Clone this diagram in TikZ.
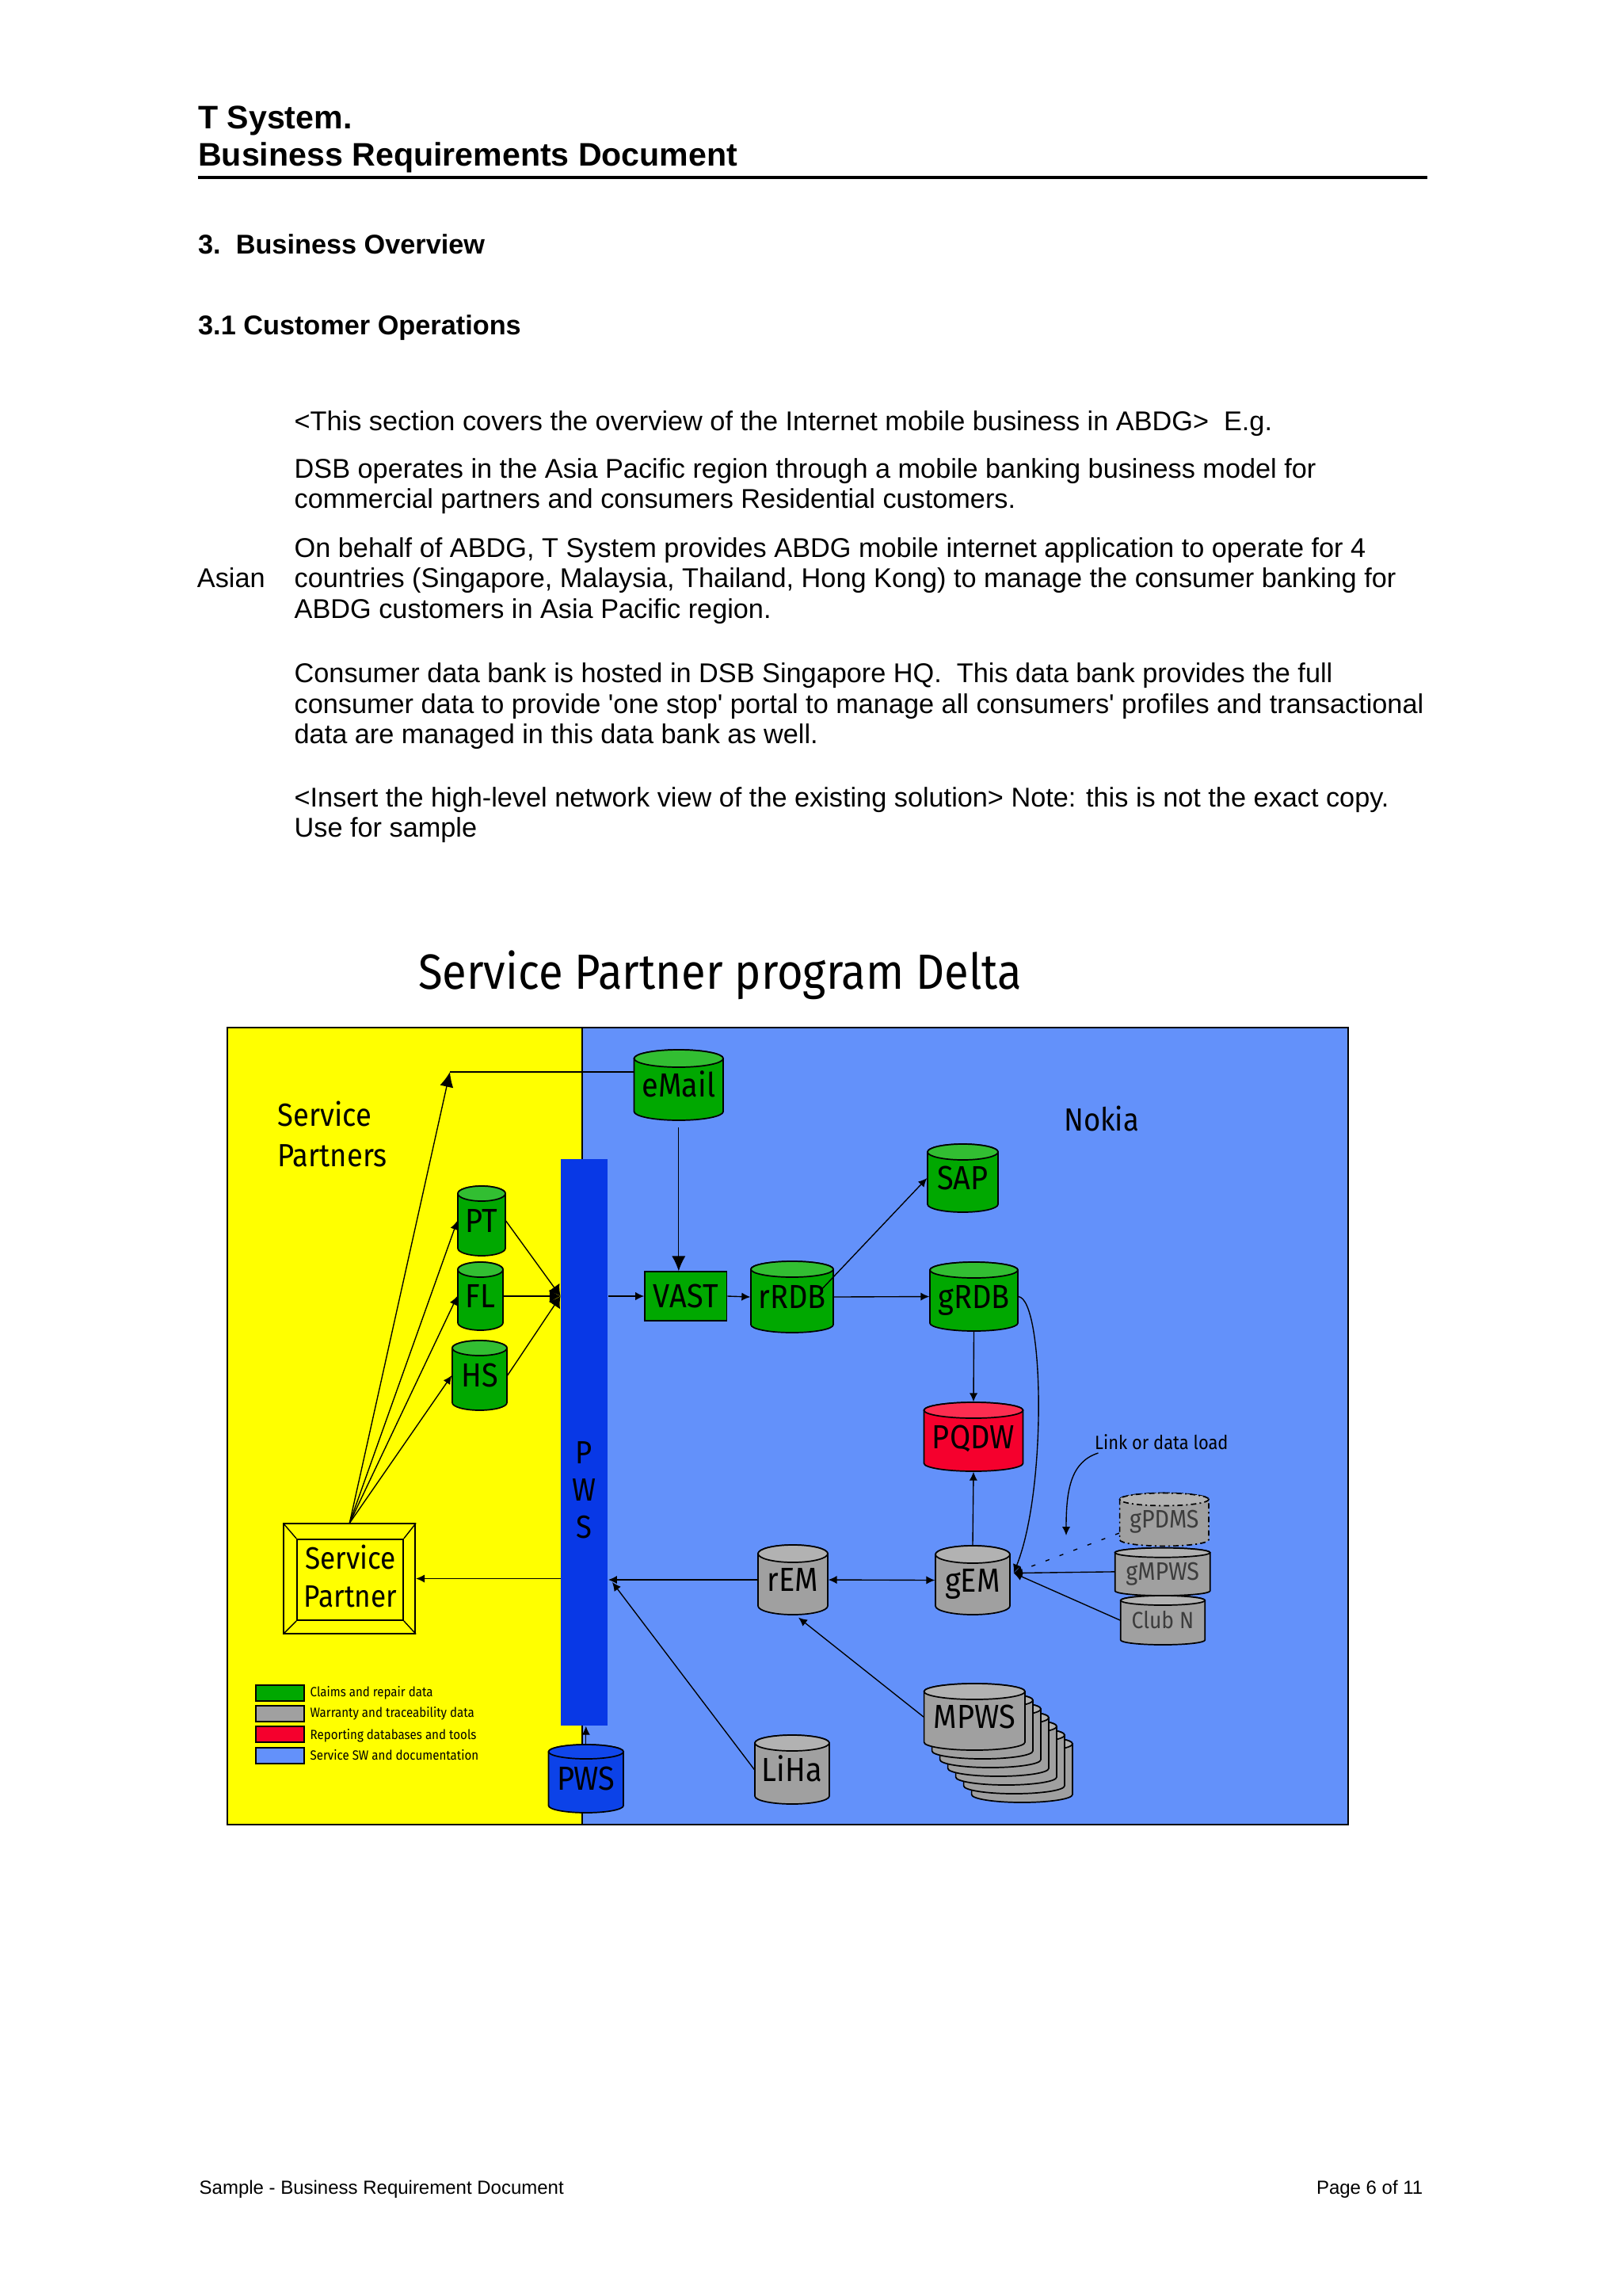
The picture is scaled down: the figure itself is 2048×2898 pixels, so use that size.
\documentclass[tikz,border=0pt]{standalone}
\usepackage{fontspec}
\setmainfont{Liberation Sans}
\newfontfamily\arialf{Liberation Sans}
\newfontfamily\dgm{Fira Sans}[FakeStretch=0.9]
\usetikzlibrary{arrows.meta,calc}

\definecolor{ylw}{RGB}{255,255,0}
\definecolor{nblue}{RGB}{99,145,250}
\definecolor{barblue}{RGB}{8,56,230}
\definecolor{grnbody}{RGB}{0,168,0}
\definecolor{grntop}{RGB}{50,190,50}
\definecolor{grybody}{RGB}{160,160,160}
\definecolor{grytop}{RGB}{178,178,178}
\definecolor{redbody}{RGB}{245,0,45}
\definecolor{redtop}{RGB}{252,45,80}
\definecolor{blubody}{RGB}{12,66,232}
\definecolor{blutop}{RGB}{16,70,236}
\definecolor{graytxt}{RGB}{60,60,60}

\newcommand{\cylry}{10}
% [#1 extra style] #2 colour prefix, #3 name, #4 cx, #5 top, #6 bottom, #7 width, #8 label
\newcommand{\dbcyl}[8][]{%
  \pgfmathsetmacro\cxl{#4-(#7)/2}%
  \pgfmathsetmacro\cxr{#4+(#7)/2}%
  \pgfmathsetmacro\crx{(#7)/2}%
  \pgfmathsetmacro\cyt{#5+\cylry}%
  \pgfmathsetmacro\cyb{#6-\cylry}%
  \pgfmathsetmacro\cmx{#4}%
  \pgfmathsetmacro\cmy{(#5+#6)/2}%
  \pgfmathsetmacro\cht{(#6-#5)*0.10254}%
  \pgfmathsetmacro\cwd{(#7)*0.10254}%
  \filldraw[cylline,fill=#2body,#1] (\cxl,\cyt) -- (\cxl,\cyb)
     arc[start angle=180,end angle=0,x radius=\crx,y radius=\cylry] -- (\cxr,\cyt)
     arc[start angle=0,end angle=-180,x radius=\crx,y radius=\cylry] -- cycle;
  \filldraw[cylline,fill=#2top,#1] (\cmx,\cyt) ellipse[x radius=\crx,y radius=\cylry];
  \node[cyllbl,#1,draw=none,minimum width=\cwd mm,minimum height=\cht mm] (#3) at (\cmx,\cmy) {#8};
}

\begin{document}
\begin{tikzpicture}[x=0.10254mm, y=-0.10254mm,
  every node/.style={inner sep=0pt},
  bodytxt/.style={anchor=base west, font=\arialf\fontsize{10}{11.5}\selectfont},
  hdrtxt/.style={anchor=base west, font=\arialf\bfseries\fontsize{12}{14}\selectfont},
  sectxt/.style={anchor=base west, font=\arialf\bfseries\fontsize{10}{12}\selectfont},
  foottxt/.style={font=\arialf\fontsize{7}{8.5}\selectfont},
  cylline/.style={draw=black, line width=0.5pt},
  cyllbl/.style={font=\dgm\fontsize{12.3}{14}\selectfont, text height=8.5pt, text depth=0pt},
  smalllbl/.style={font=\dgm\fontsize{9.3}{11}\selectfont, text height=6.4pt, text=graytxt},
  dlbl/.style={font=\dgm\fontsize{11.8}{14}\selectfont},
  legtxt/.style={anchor=west, font=\dgm\fontsize{4.9}{6}\selectfont, text height=3.4pt, text depth=0pt},
  swatch/.style={draw=black, line width=0.5pt, minimum width=6.25mm, minimum height=2.05mm},
  conn/.style={draw=black, line width=0.4pt},
  arr/.style={conn, -{Latex[length=3.2pt,width=3pt]}},
  bigarr/.style={conn, -{Latex[length=5.5pt,width=5pt]}},
  juncarr/.style={conn, -{Latex[length=4pt,width=5pt]}},
  dblarr/.style={conn, {Latex[length=3.2pt,width=3pt]}-{Latex[length=3.2pt,width=3pt]}}
]
\path[use as bounding box, fill=white] (0,0) rectangle (2048,2898);

% ---------- page header ----------
\node[hdrtxt] (h1) at (249.5,162.7) {T System.};
\node[hdrtxt] (h2) at (249.5,209.3) {Business Requirements Document};
\draw[line width=0.9pt] (249.5,224) -- (1802,224);
\node[sectxt] (s1) at (249.5,320.7) {3.\ \ Business Overview};
\node[sectxt] (s2) at (249.5,422.7) {3.1 Customer Operations};

% ---------- body text ----------
\node[bodytxt] (b1) at (371,543.3) {<This section covers the overview of the Internet mobile business in ABDG>\ \ E.g.};
\node[bodytxt] (b2) at (371,603.3) {DSB operates in the Asia Pacific region through a mobile banking business model for};
\node[bodytxt] (b3) at (371,641.7) {commercial partners and consumers Residential customers.};
\node[bodytxt] (b4) at (371,703.3) {On behalf of ABDG, T System provides ABDG mobile internet application to operate for 4};
\node[bodytxt] (b5) at (371,741.7) {countries (Singapore, Malaysia, Thailand, Hong Kong) to manage the consumer banking for};
\node[bodytxt] (b5a) at (248.3,741.7) {Asian};
\node[bodytxt] (b6) at (371,780.1) {ABDG customers in Asia Pacific region.};
\node[bodytxt] (b7) at (371,861.7) {Consumer data bank is hosted in DSB Singapore HQ.\ \ This data bank provides the full};
\node[bodytxt] (b8) at (371,900) {consumer data to provide 'one stop' portal to manage all consumers' profiles and transactional};
\node[bodytxt] (b9) at (371,938.4) {data are managed in this data bank as well.};
\node[bodytxt] (b10) at (371,1018.3) {<Insert the high-level network view of the existing solution> Note: this is not the exact copy.};
\node[bodytxt] (b11) at (371,1056.7) {Use for sample};

% ---------- diagram title ----------
\node[anchor=base, font=\dgm\fontsize{18.2}{21}\selectfont] (title) at (909,1248.3) {Service Partner program Delta};

% ---------- panels ----------
\fill[ylw] (287,1297) rectangle (735,2303);
\fill[nblue] (735,1297) rectangle (1702,2303);
\draw[line width=0.6pt] (287,1297) rectangle (1702,2303);
\draw[line width=0.6pt] (735,1297) -- (735,2303);

\node[dlbl, anchor=base west] (spl1) at (350,1421.7) {Service};
\node[dlbl, anchor=base west] (spl2) at (350,1472.7) {Partners};
\node[dlbl, anchor=base] (nokia) at (1390.6,1427) {Nokia};

% ---------- PWS bar ----------
\node[fill=barblue, minimum width=6.05mm, minimum height=73.32mm] (bar) at (737.8,1820.5) {};
\node[dlbl, align=center, font=\dgm\fontsize{11.8}{13.7}\selectfont] (barl) at (737.5,1880.8) {P\\W\\S};

% ---------- cylinders ----------
\renewcommand{\cylry}{11}
\dbcyl{grn}{eMail}{856.8}{1325}{1414}{112.5}{eMail}
\renewcommand{\cylry}{9.5}
\dbcyl{grn}{PT}{608}{1497}{1585}{60}{PT}
\dbcyl{grn}{FL}{606.5}{1593}{1679}{57}{FL}
\dbcyl{grn}{HS}{605.5}{1692}{1780}{69}{HS}
\renewcommand{\cylry}{10}
\dbcyl{grn}{rRDB}{1000}{1592}{1682}{104}{rRDB}
\dbcyl{grn}{SAP}{1215.5}{1444}{1530}{89}{SAP}
\dbcyl{grn}{gRDB}{1229.5}{1593}{1680}{111}{gRDB}
\dbcyl{red}{PQDW}{1229}{1770}{1857}{125}{PQDW}
\renewcommand{\cylry}{11}
\dbcyl{gry}{gEM}{1228}{1951}{2038}{94}{gEM}
\dbcyl{gry}{rEM}{1001}{1950}{2038}{88}{rEM}
\renewcommand{\cylry}{10}
\dbcyl{gry}{LiHa}{1000}{2190}{2277}{94}{LiHa}
\foreach \k in {6,5,4,3,2,1}{%
  \dbcyl{gry}{MPWSb\k}{1230.3+10*\k}{2125+11*\k}{2209+11*\k}{127.4}{}
}
\dbcyl{gry}{MPWS}{1230.3}{2125}{2209}{127.4}{MPWS}
\renewcommand{\cylry}{9}
\dbcyl{blu}{PWS}{739.8}{2202}{2288}{94.5}{PWS}
\renewcommand{\cylry}{8}
\dbcyl[smalllbl, dash pattern=on 2pt off 1.2pt on 0.6pt off 1.2pt]{gry}{gPDMS}{1469.8}{1884.5}{1951.4}{112.4}{gPDMS}
\renewcommand{\cylry}{6}
\dbcyl[smalllbl]{gry}{gMPWS}{1467.7}{1953.7}{2014}{120}{gMPWS}
\dbcyl[smalllbl, font=\dgm\fontsize{8.6}{10}\selectfont, text height=5.9pt]{gry}{ClubN}{1468}{2014}{2076}{106.5}{Club N}

% ---------- VAST ----------
\node[cyllbl, draw=black, line width=0.5pt, fill=grnbody, minimum width=10.61mm, minimum height=6.33mm] (VAST) at (865.8,1636) {VAST};

% ---------- Service Partner frame ----------
\node[draw=black, line width=0.5pt, fill=ylw, minimum width=17.02mm, minimum height=14.19mm] (sp) at (441.3,1992.5) {};
\node[draw=black, line width=0.5pt, minimum width=13.74mm, minimum height=10.49mm] (spi) at (442,1993.9) {};
\draw[conn] (sp.north west) -- (spi.north west) (sp.north east) -- (spi.north east)
            (sp.south west) -- (spi.south west) (sp.south east) -- (spi.south east);
\node[anchor=base, font=\dgm\fontsize{11.4}{13}\selectfont] (spt1) at (442.5,1980.8) {Service};
\node[anchor=base, font=\dgm\fontsize{11.4}{13}\selectfont] (spt2) at (442.5,2028.5) {Partner};

% ---------- legend ----------
\node[swatch, fill=grnbody] (lg1) at (353.8,2136.7) {};
\node[swatch, fill=grybody] (lg2) at (353.8,2163) {};
\node[swatch, fill=redbody] (lg3) at (353.8,2189.3) {};
\node[swatch, fill=nblue] (lg4) at (353.8,2216) {};
\node[legtxt] (lt1) at (391,2136) {Claims and repair data};
\node[legtxt] (lt2) at (391,2161.7) {Warranty and traceability data};
\node[legtxt] (lt3) at (391,2189.3) {Reporting databases and tools};
\node[legtxt] (lt4) at (391,2216) {Service SW and documentation};

% ---------- connectors ----------
\coordinate (emc) at (568,1353);
\coordinate (jn) at (bar.west |- FL.east);
\coordinate (gemin) at ($(gEM.east)+(4,-9)$);

\draw[conn] (eMail.west |- emc) -- (emc);
\draw[bigarr] (sp.north) -- (emc);
\draw[arr] (sp.north) -- (PT.west);
\draw[arr] (sp.north) -- (FL.west);
\draw[arr] (sp.north) -- (HS.west);

\draw[juncarr] (PT.east) -- (jn);
\draw[juncarr] (FL.east) -- (jn);
\draw[juncarr] (HS.east) -- (jn);

\draw[bigarr, shorten <=0.9mm] (eMail.south) -- (eMail.south |- VAST.north);
\draw[arr] (bar.east |- VAST.west) -- (VAST.west);
\draw[arr] (VAST.east) -- (rRDB.west);
\draw[arr] ($(rRDB.east)+(-15,-10)$) -- (SAP.west);
\draw[arr] (rRDB.east) -- (gRDB.west);
\draw[arr] (gRDB.south) -- (PQDW.north);
\draw[arr] (gEM.north) -- (PQDW.south);
\draw[arr] (gRDB.east) .. controls (1318,1640) and (1322,1880) .. (gemin);
\draw[arr] (gMPWS.west) -- (gemin);
\draw[arr] (ClubN.west) -- (gemin);
\draw[arr, dash pattern=on 1.5pt off 4pt] ($(gPDMS.south west)+(0,-17)$) -- (gemin);

\draw[dblarr] (rEM.east) -- (gEM.west);
\draw[arr] (rEM.west) -- (rEM.west -| bar.east);
\draw[arr] (bar.west |- sp.east) -- (sp.east);
\draw[arr] (LiHa.west) -- ($(bar.east |- rEM.west)+(5,3)$);
\draw[arr] (MPWS.west) -- ($(rEM.south)+(7,3)$);
\draw[arr] (PWS.north) -- (PWS.north |- bar.south);

\node[anchor=base west, font=\dgm\fontsize{7.1}{8.5}\selectfont] (lnk) at (1381.5,1829) {Link or data load};
\coordinate (lnkend) at (1346,1938);
\draw[arr] ($(lnk.south west)+(5,4)$) .. controls (1352,1845) and (1346,1880) .. (lnkend);

% ---------- footer ----------
\node[foottxt, anchor=base west] (f1) at (251,2769) {Sample - Business Requirement Document};
\node[foottxt, anchor=base east] (f2) at (1797,2769) {Page 6 of 11};
\end{tikzpicture}
\end{document}
